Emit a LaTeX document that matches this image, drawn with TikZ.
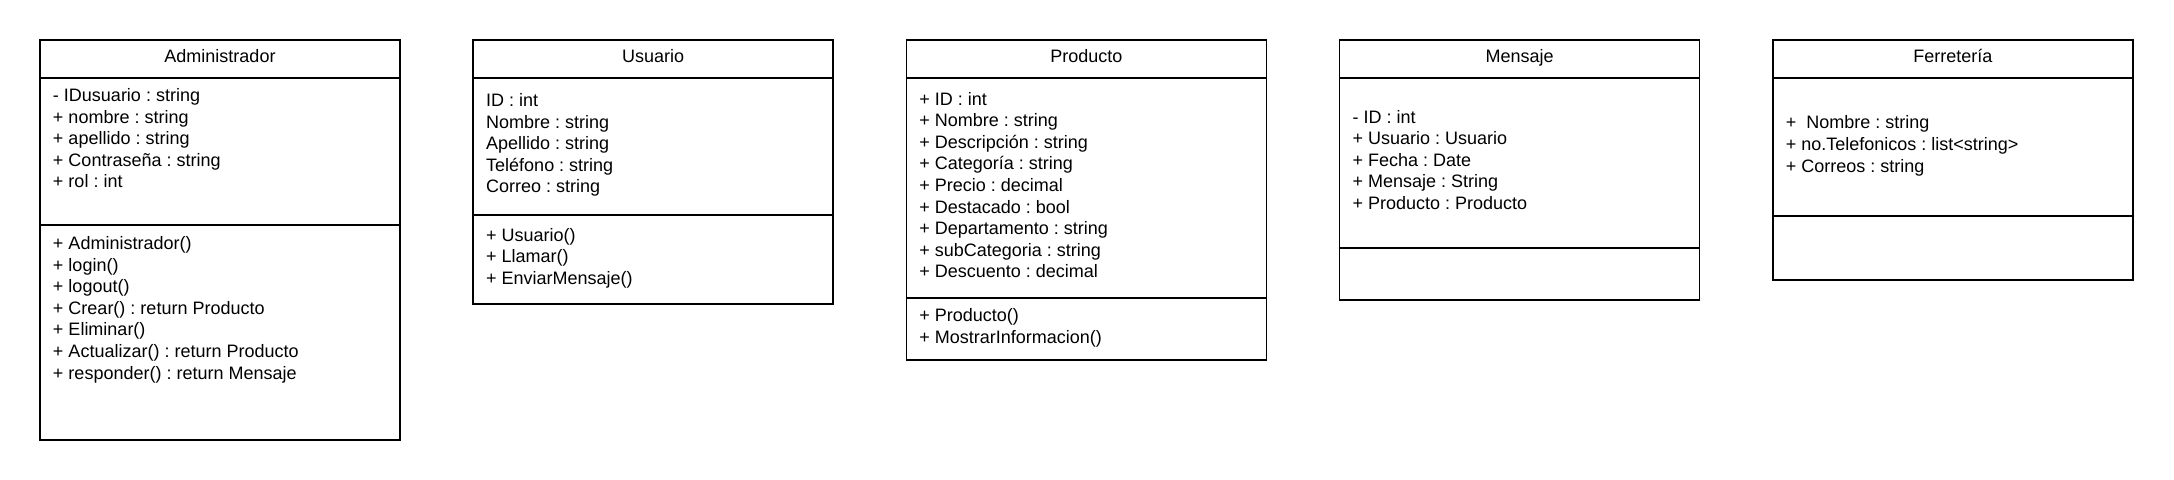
\documentclass[tikz,border=0pt]{standalone}
\usepackage{fontspec}
\setmainfont{Liberation Sans}
\usetikzlibrary{positioning}
\frenchspacing

\begin{document}
\begin{tikzpicture}[node distance=36.6pt, line width=0.75pt, font=\fontsize{9}{10.8}\selectfont,
  every node/.style={outer sep=0pt, inner sep=0pt},
  classname/.style={draw, rectangle, minimum width=180pt, minimum height=19pt, text height=6.5pt, text depth=2.8pt},
  compart/.style={draw, rectangle, minimum width=180pt},
  members/.style={align=left, execute at begin node=\strut}]

  \useasboundingbox (0,0) rectangle (1087pt,-240pt);

  \node[classname] (1) [anchor=north west] at (20pt,-20pt) {Administrador};
  \node[classname] (2) [right=of 1] {Usuario};
  \node[classname] (3) [right=of 2] {Producto};
  \node[classname] (4) [right=of 3] {Mensaje};
  \node[classname] (5) [right=of 4] {Ferretería};

  \node[compart] (1a) [minimum height=73.5pt, below=0pt of 1] {};
  \node[compart] (1m) [minimum height=107.5pt, below=0pt of 1a] {};
  \node[compart] (2a) [minimum height=68.5pt, below=0pt of 2] {};
  \node[compart] (2m) [minimum height=44.5pt, below=0pt of 2a] {};
  \node[compart] (3a) [minimum height=110pt, below=0pt of 3] {};
  \node[compart] (3m) [minimum height=31pt, below=0pt of 3a] {};
  \node[compart] (4a) [minimum height=85pt, below=0pt of 4] {};
  \node[compart] (4m) [minimum height=26pt, below=0pt of 4a] {};
  \node[compart] (5a) [minimum height=69pt, below=0pt of 5] {};
  \node[compart] (5m) [minimum height=32pt, below=0pt of 5a] {};

  \node[members] (1at) [below right=5.2pt and 6.5pt of 1a.north west]
    {- IDusuario : string\\+ nombre : string\\+ apellido : string\\+ Contraseña : string\\+ rol : int};
  \node[members] (1mt) [below right=5.7pt and 6.5pt of 1m.north west]
    {+ Administrador()\\+ login()\\+ logout()\\+ Crear() : return Producto\\+ Eliminar()\\+ Actualizar() : return Producto\\+ responder() : return Mensaje};
  \node[members] (2at) [below right=7.7pt and 6.5pt of 2a.north west]
    {ID : int\\Nombre : string\\Apellido : string\\Teléfono : string\\Correo : string};
  \node[members] (2mt) [below right=6.5pt and 6.5pt of 2m.north west]
    {+ Usuario()\\+ Llamar()\\+ EnviarMensaje()};
  \node[members] (3at) [below right=7pt and 6.5pt of 3a.north west]
    {+ ID : int\\+ Nombre : string\\+ Descripción : string\\+ Categoría : string\\+ Precio : decimal\\+ Destacado : bool\\+ Departamento : string\\+ subCategoria : string\\+ Descuento : decimal};
  \node[members] (3mt) [below right=5.3pt and 6.5pt of 3m.north west]
    {+ Producto()\\+ MostrarInformacion()};
  \node[members] (4at) [below right=16pt and 6.5pt of 4a.north west]
    {- ID : int\\+ Usuario : Usuario\\+ Fecha : Date\\+ Mensaje : String\\+ Producto : Producto};
  \node[members] (5at) [below right=18.9pt and 6.5pt of 5a.north west]
    {+~ Nombre : string\\+ no.Telefonicos : list<string>\\+ Correos : string};

\end{tikzpicture}
\end{document}
